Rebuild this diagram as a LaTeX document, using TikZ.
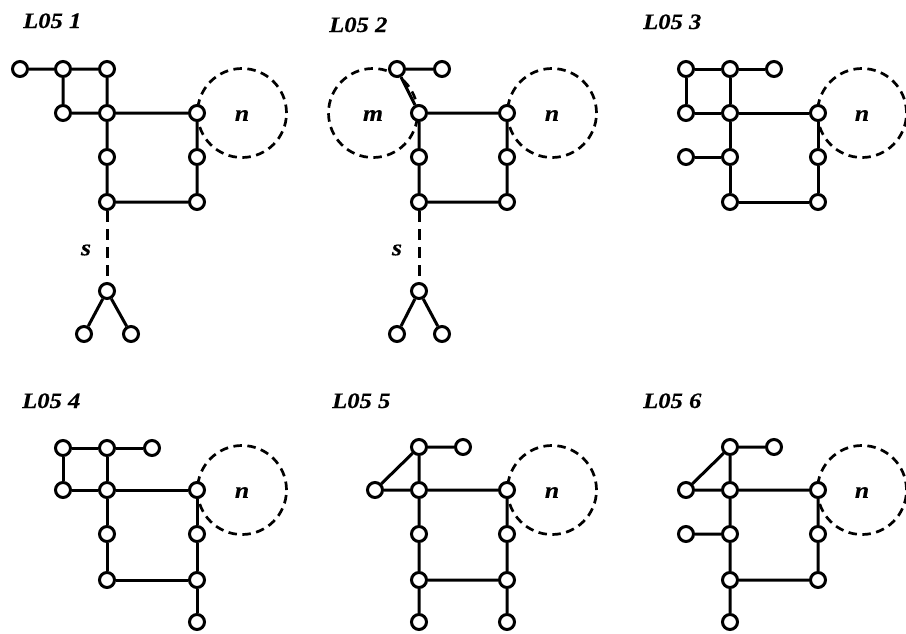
\documentclass[tikz,border=0pt]{standalone}
\usepackage{fontspec}
\setmainfont{Liberation Serif}
\newfontfamily\labfont[FakeStretch=1.12,FakeBold=0.4]{Liberation Serif}
\begin{document}
\begin{tikzpicture}[x=1pt,y=-1pt,
  v/.style={circle,draw,fill=white,line width=3pt,minimum size=15pt,inner sep=0pt},
  ring/.style={circle,draw,dash pattern=on 8.5pt off 5.5pt,line width=2.7pt,minimum size=89pt,inner sep=0pt},
  e/.style={line width=3pt},
  de/.style={line width=3pt,dash pattern=on 11pt off 7pt},
  ttl/.style={anchor=base west,inner sep=0pt,font=\labfont\bfseries\itshape\fontsize{22}{22}\selectfont},
  lbl/.style={inner sep=0pt,font=\labfont\bfseries\itshape\fontsize{23}{23}\selectfont}]
\useasboundingbox (0,0) rectangle (906,633);

% ---------- Panel 1 ----------
\node[ttl] (t1) at (23,28) {L05 1};
\node[ring] (r1) at (242,113) {};
\node[lbl] (n1) at (242,115.5) {n};
\node[lbl] (s1) at (86,250) {s};
\node[v] (p1a) at (20,69) {};
\node[v] (p1b) at (63,69) {};
\node[v] (p1c) at (107,69) {};
\node[v] (p1d) at (63,113) {};
\node[v] (p1e) at (107,113) {};
\node[v] (p1f) at (197,113) {};
\node[v] (p1g) at (107,157) {};
\node[v] (p1h) at (197,157) {};
\node[v] (p1i) at (107,202) {};
\node[v] (p1j) at (197,202) {};
\node[v] (p1k) at (107,291) {};
\node[v] (p1l) at (84,334) {};
\node[v] (p1m) at (131,334) {};
\draw[e] (p1a)--(p1b) (p1b)--(p1c) (p1b)--(p1d) (p1c)--(p1e) (p1d)--(p1e)
  (p1e)--(p1f) (p1e)--(p1g) (p1g)--(p1i) (p1f)--(p1h) (p1h)--(p1j)
  (p1i)--(p1j) (p1k)--(p1l) (p1k)--(p1m);
\draw[de] (p1i)--(p1k);

% ---------- Panel 2 ----------
\node[ttl] (t2) at (329,32) {L05 2};
\node[ring] (r2m) at (373,113) {};
\node[ring] (r2n) at (552,113) {};
\node[lbl] (m2) at (373,115.5) {m};
\node[lbl] (n2) at (552,115.5) {n};
\node[lbl] (s2) at (397,250) {s};
\node[v] (p2a) at (397,69) {};
\node[v] (p2b) at (442,69) {};
\node[v] (p2e) at (419,113) {};
\node[v] (p2f) at (507,113) {};
\node[v] (p2g) at (419,157) {};
\node[v] (p2h) at (507,157) {};
\node[v] (p2i) at (419,202) {};
\node[v] (p2j) at (507,202) {};
\node[v] (p2k) at (419,291) {};
\node[v] (p2l) at (397,334) {};
\node[v] (p2m) at (442,334) {};
\draw[e] (p2a)--(p2b) (p2a)--(p2e) (p2e)--(p2f) (p2e)--(p2g) (p2g)--(p2i)
  (p2f)--(p2h) (p2h)--(p2j) (p2i)--(p2j) (p2k)--(p2l) (p2k)--(p2m);
\draw[de] (p2i)--(p2k);

% ---------- Panel 3 ----------
\node[ttl] (t3) at (643,29) {L05 3};
\node[ring] (r3) at (862,113) {};
\node[lbl] (n3) at (862,115.5) {n};
\node[v] (p3a) at (686,69) {};
\node[v] (p3b) at (730,69) {};
\node[v] (p3c) at (774,69) {};
\node[v] (p3d) at (686,113) {};
\node[v] (p3e) at (730,113) {};
\node[v] (p3f) at (818,113) {};
\node[v] (p3n) at (686,157) {};
\node[v] (p3g) at (730,157) {};
\node[v] (p3h) at (818,157) {};
\node[v] (p3i) at (730,202) {};
\node[v] (p3j) at (818,202) {};
\draw[e] (p3a)--(p3b) (p3b)--(p3c) (p3a)--(p3d) (p3b)--(p3e) (p3d)--(p3e)
  (p3e)--(p3f) (p3e)--(p3g) (p3n)--(p3g) (p3g)--(p3i) (p3f)--(p3h)
  (p3h)--(p3j) (p3i)--(p3j);

% ---------- Panel 4 ----------
\node[ttl] (t4) at (22,408) {L05 4};
\node[ring] (r4) at (242,490) {};
\node[lbl] (n4) at (242,492.5) {n};
\node[v] (p4b) at (63,448) {};
\node[v] (p4c) at (107,448) {};
\node[v] (p4x) at (152,448) {};
\node[v] (p4d) at (63,490) {};
\node[v] (p4e) at (107,490) {};
\node[v] (p4f) at (197,490) {};
\node[v] (p4g) at (107,534) {};
\node[v] (p4h) at (197,534) {};
\node[v] (p4i) at (107,580) {};
\node[v] (p4j) at (197,580) {};
\node[v] (p4k) at (197,622) {};
\draw[e] (p4b)--(p4c) (p4c)--(p4x) (p4b)--(p4d) (p4c)--(p4e) (p4d)--(p4e)
  (p4e)--(p4f) (p4e)--(p4g) (p4g)--(p4i) (p4f)--(p4h) (p4h)--(p4j)
  (p4j)--(p4k) (p4i)--(p4j);

% ---------- Panel 5 ----------
\node[ttl] (t5) at (332,408) {L05 5};
\node[ring] (r5) at (552,490) {};
\node[lbl] (n5) at (552,492.5) {n};
\node[v] (p5a) at (419,447) {};
\node[v] (p5b) at (463,447) {};
\node[v] (p5d) at (375,490) {};
\node[v] (p5e) at (419,490) {};
\node[v] (p5f) at (507,490) {};
\node[v] (p5g) at (419,534) {};
\node[v] (p5h) at (507,534) {};
\node[v] (p5i) at (419,580) {};
\node[v] (p5j) at (507,580) {};
\node[v] (p5k) at (419,622) {};
\node[v] (p5l) at (507,622) {};
\draw[e] (p5a)--(p5b) (p5d)--(p5a) (p5d)--(p5e) (p5a)--(p5e) (p5e)--(p5f)
  (p5e)--(p5g) (p5g)--(p5i) (p5i)--(p5k) (p5f)--(p5h) (p5h)--(p5j)
  (p5j)--(p5l) (p5i)--(p5j);

% ---------- Panel 6 ----------
\node[ttl] (t6) at (643,408) {L05 6};
\node[ring] (r6) at (862,490) {};
\node[lbl] (n6) at (862,492.5) {n};
\node[v] (p6a) at (730,447) {};
\node[v] (p6b) at (774,447) {};
\node[v] (p6d) at (686,490) {};
\node[v] (p6e) at (730,490) {};
\node[v] (p6f) at (818,490) {};
\node[v] (p6n) at (686,534) {};
\node[v] (p6g) at (730,534) {};
\node[v] (p6h) at (818,534) {};
\node[v] (p6i) at (730,580) {};
\node[v] (p6j) at (818,580) {};
\node[v] (p6k) at (730,622) {};
\draw[e] (p6a)--(p6b) (p6d)--(p6a) (p6d)--(p6e) (p6a)--(p6e) (p6e)--(p6f)
  (p6e)--(p6g) (p6n)--(p6g) (p6g)--(p6i) (p6i)--(p6k) (p6f)--(p6h)
  (p6h)--(p6j) (p6i)--(p6j);
\end{tikzpicture}
\end{document}
